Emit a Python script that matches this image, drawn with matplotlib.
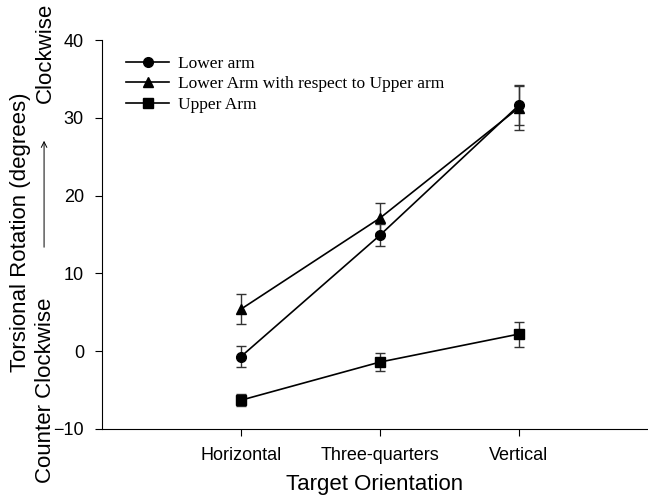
import numpy as np
import matplotlib.pyplot as plt

categories = ['Horizontal', 'Three-quarters', 'Vertical']
lower_arm = [-0.7, 14.9, 31.6]
lower_arm_err = [1.35, 1.4, 2.5]
lower_wrt_upper = [5.4, 17.1, 31.3]
lower_wrt_upper_err = [1.95, 1.9, 2.9]
upper_arm = [-6.3, -1.4, 2.2]
upper_arm_err = [0.8, 1.15, 1.6]

x = np.arange(1, len(categories) + 1)

fig = plt.figure(figsize=(6.48, 4.99), dpi=100)
ax = fig.add_axes([0.1574, 0.1403, 0.8426, 0.7795])

ekw = dict(color='black', ecolor='#333333', elinewidth=1, capsize=3.5, capthick=1, lw=1.2)
c1 = ax.errorbar(x, lower_arm, yerr=lower_arm_err, marker='o', ms=7, **ekw)
c2 = ax.errorbar(x, lower_wrt_upper, yerr=lower_wrt_upper_err, marker='^', ms=7, **ekw)
c3 = ax.errorbar(x, upper_arm, yerr=upper_arm_err, marker='s', ms=6.5, **ekw)

ax.set_xlim(0, 3.93)
ax.set_ylim(-10, 40)
ax.set_xticks(x)
ax.set_xticklabels(categories)
ax.set_yticks([-10, 0, 10, 20, 30, 40])
for lab in ax.get_xticklabels() + ax.get_yticklabels():
    lab.set_fontfamily('Liberation Sans')
    lab.set_fontsize(13)
ax.tick_params(direction='out', length=5, width=0.8, pad=8)
ax.spines['top'].set_visible(False)
ax.spines['right'].set_visible(False)

ax.set_xlabel('Target Orientation', fontfamily='Liberation Sans', fontsize=16, labelpad=7.5)

# two-line y label with an arrow in the second line
fig.text(0.031, 1 - 232/499, 'Torsional Rotation (degrees)', rotation=90, ha='center', va='center',
         fontfamily='Liberation Sans', fontsize=16)
fig.text(0.07, 1 - 483/499, 'Counter Clockwise', rotation=90, ha='center', va='bottom',
         fontfamily='Liberation Sans', fontsize=16)
fig.text(0.07, 1 - 3/499, 'Clockwise', rotation=90, ha='center', va='top',
         fontfamily='Liberation Sans', fontsize=16)
ax.annotate('', xy=(0.068, 1 - 138/499), xytext=(0.068, 1 - 250/499), xycoords='figure fraction',
            arrowprops=dict(arrowstyle='->', lw=0.7, color='black'))

ax.legend([c1.lines[0], c2.lines[0], c3.lines[0]],
          ['Lower arm', 'Lower Arm with respect to Upper arm', 'Upper Arm'],
          loc='upper left', bbox_to_anchor=(0.015, 1.0), frameon=False,
          prop={'family': 'Liberation Serif', 'size': 12.5}, handlelength=2.5,
          handletextpad=0.5, labelspacing=0.25)

fig.savefig('out.png', dpi=100)
